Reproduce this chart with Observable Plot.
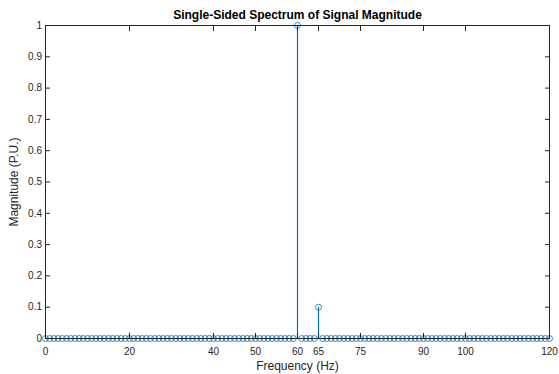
<!DOCTYPE html>
<html>
<head>
<meta charset="utf-8">
<script src="https://cdn.jsdelivr.net/npm/d3@7"></script>
<script src="https://cdn.jsdelivr.net/npm/@observablehq/plot@0.6"></script>
<style>
  html, body { margin: 0; padding: 0; background: #fff; }
</style>
</head>
<body>
<div id="chart"></div>
<script>
const titleText = "Single-Sided Spectrum of Signal Magnitude";
const xLabel = "Frequency (Hz)";
const yLabel = "Magnitude (P.U.)";

const frequency = [
  0, 1, 2, 3, 4, 5, 6, 7, 8, 9, 10, 11, 12, 13, 14, 15, 16, 17, 18, 19,
  20, 21, 22, 23, 24, 25, 26, 27, 28, 29, 30, 31, 32, 33, 34, 35, 36, 37, 38, 39,
  40, 41, 42, 43, 44, 45, 46, 47, 48, 49, 50, 51, 52, 53, 54, 55, 56, 57, 58, 59,
  60, 61, 62, 63, 64, 65, 66, 67, 68, 69, 70, 71, 72, 73, 74, 75, 76, 77, 78, 79,
  80, 81, 82, 83, 84, 85, 86, 87, 88, 89, 90, 91, 92, 93, 94, 95, 96, 97, 98, 99,
  100, 101, 102, 103, 104, 105, 106, 107, 108, 109, 110, 111, 112, 113, 114, 115, 116, 117, 118, 119,
  120
];
const magnitude = [
  0, 0, 0, 0, 0, 0, 0, 0, 0, 0, 0, 0, 0, 0, 0, 0, 0, 0, 0, 0,
  0, 0, 0, 0, 0, 0, 0, 0, 0, 0, 0, 0, 0, 0, 0, 0, 0, 0, 0, 0,
  0, 0, 0, 0, 0, 0, 0, 0, 0, 0, 0, 0, 0, 0, 0, 0, 0, 0, 0, 0,
  1, 0, 0, 0, 0, 0.1, 0, 0, 0, 0, 0, 0, 0, 0, 0, 0, 0, 0, 0, 0,
  0, 0, 0, 0, 0, 0, 0, 0, 0, 0, 0, 0, 0, 0, 0, 0, 0, 0, 0, 0,
  0, 0, 0, 0, 0, 0, 0, 0, 0, 0, 0, 0, 0, 0, 0, 0, 0, 0, 0, 0,
  0
];
const xTicks = [0, 20, 40, 50, 60, 65, 75, 90, 100, 120];
const yTicks = [0, 0.1, 0.2, 0.3, 0.4, 0.5, 0.6, 0.7, 0.8, 0.9, 1];

const data = frequency.map((f, i) => ({f, m: magnitude[i]}));

const stemColor = "#0072BD";
const axisColor = "#262626";

const chart = Plot.plot({
  width: 559,
  height: 374,
  marginLeft: 45,
  marginRight: 10,
  marginTop: 25,
  marginBottom: 36,
  x: {domain: [0, 120]},
  y: {domain: [0, 1]},
  style: {
    fontFamily: "'Liberation Sans', Arial, Helvetica, sans-serif",
    fontSize: "10px",
    color: axisColor,
    background: "#fff",
    overflow: "visible"
  },
  marks: [
    Plot.ruleX(data, {x: "f", y1: 0, y2: "m", stroke: stemColor, strokeWidth: 1.2}),
    Plot.dot(data, {x: "f", y: "m", r: 3, stroke: stemColor, strokeWidth: 0.8, fill: "none"}),
    Plot.frame({stroke: axisColor}),
    Plot.axisX(xTicks, {
      anchor: "bottom", tickSize: -5, tickPadding: 14,
      tickFormat: d => String(d),
      label: null
    }),
    Plot.axisX({
      anchor: "bottom", ticks: [], tickSize: 0,
      label: xLabel, labelAnchor: "center", labelOffset: 31, labelArrow: "none",
      fontSize: 12
    }),
    Plot.axisX(xTicks, {anchor: "top", tickSize: -5, tickFormat: () => null, label: null}),
    Plot.axisY(yTicks, {
      anchor: "left", tickSize: -5, tickPadding: 8.5,
      tickFormat: d => String(d),
      label: null
    }),
    Plot.axisY({
      anchor: "left", ticks: [], tickSize: 0,
      label: yLabel, labelAnchor: "center", labelOffset: 36, labelArrow: "none",
      fontSize: 12
    }),
    Plot.axisY(yTicks, {anchor: "right", tickSize: -5, tickFormat: () => null, label: null}),
    Plot.text([titleText], {
      frameAnchor: "top", dy: -10.5, lineAnchor: "middle",
      text: d => d, fontWeight: "bold", fontSize: 12, fill: "#000"
    })
  ]
});

document.getElementById("chart").appendChild(chart);
</script>
</body>
</html>
